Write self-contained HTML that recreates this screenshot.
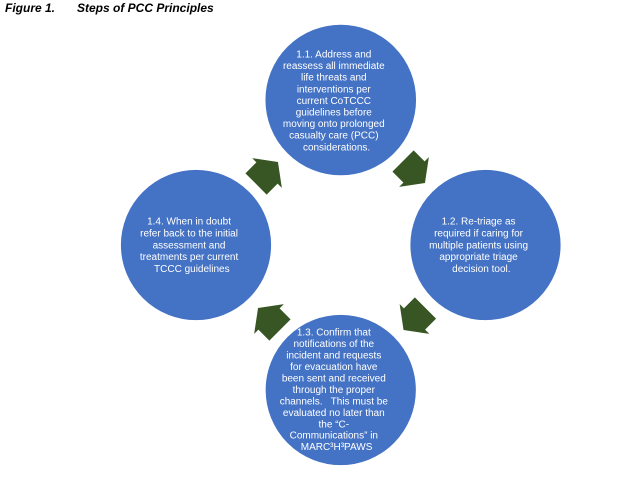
<!DOCTYPE html>
<html>
<head>
<meta charset="utf-8">
<style>
  html, body { margin: 0; padding: 0; background: #ffffff; }
  body { width: 640px; height: 490px; overflow: hidden; }
  svg { display: block; }
  .t { font-family: "Liberation Sans", Arial, sans-serif; font-size: 10px; fill: #ffffff; white-space: pre; }
  .title { font-family: "Liberation Sans", Arial, sans-serif; font-size: 12px; font-weight: bold; font-style: italic; fill: #000; }
</style>
</head>
<body>
<svg width="640" height="490" viewBox="0 0 640 490" xmlns="http://www.w3.org/2000/svg">
  <rect x="0" y="0" width="640" height="490" fill="#ffffff"/>

  <!-- Title -->
  <text class="title" x="5" y="12">Figure 1.</text>
  <text class="title" x="77" y="12">Steps of PCC Principles</text>

  <!-- Circles -->
  <circle cx="340.75" cy="100" r="75.7" fill="#4472C4" stroke="#ffffff" stroke-width="0.8"/>
  <circle cx="485.5" cy="245" r="75.5" fill="#4472C4" stroke="#ffffff" stroke-width="0.8"/>
  <circle cx="340.75" cy="390" r="75.5" fill="#4472C4" stroke="#ffffff" stroke-width="0.8"/>
  <circle cx="196" cy="245" r="75.5" fill="#4472C4" stroke="#ffffff" stroke-width="0.8"/>

  <!-- Arrows -->
  <g fill="#375623">
    <polygon transform="translate(414,172) rotate(45)" points="-15.5,-15 0,-15 0,-21 15.5,0 0,21 0,15 -15.5,15"/>
    <polygon transform="translate(414.5,319) rotate(135)" points="-15.5,-15 0,-15 0,-21 15.5,0 0,21 0,15 -15.5,15"/>
    <polygon transform="translate(269,319) rotate(225)" points="-15.5,-15 0,-15 0,-21 15.5,0 0,21 0,15 -15.5,15"/>
    <polygon transform="translate(267,173) rotate(315)" points="-15.5,-15 0,-15 0,-21 15.5,0 0,21 0,15 -15.5,15"/>
  </g>

  <!-- Top circle text -->
  <text class="t" text-anchor="middle">
    <tspan x="340.75" y="57.5">1.1. Address and</tspan>
    <tspan x="340.75" y="69.1">reassess all immediate</tspan>
    <tspan x="340.75" y="80.7">life threats and</tspan>
    <tspan x="340.75" y="92.3">interventions per</tspan>
    <tspan x="340.75" y="103.9">current CoTCCC</tspan>
    <tspan x="340.75" y="115.5">guidelines before</tspan>
    <tspan x="340.75" y="127.1">moving onto prolonged</tspan>
    <tspan x="340.75" y="138.7">casualty care (PCC)</tspan>
    <tspan x="340.75" y="150.3">considerations.</tspan>
  </text>

  <!-- Right circle text -->
  <text class="t" text-anchor="middle">
    <tspan x="485.5" y="224.5">1.2. Re-triage as</tspan>
    <tspan x="485.5" y="236.4">required if caring for</tspan>
    <tspan x="485.5" y="248.3">multiple patients using</tspan>
    <tspan x="485.5" y="260.2">appropriate triage</tspan>
    <tspan x="485.5" y="272.1">decision tool.</tspan>
  </text>

  <!-- Left circle text -->
  <text class="t" text-anchor="middle">
    <tspan x="196" y="224.5">1.4. When in doubt</tspan>
    <tspan x="196" y="236.4">refer back to the initial</tspan>
    <tspan x="196" y="248.3">assessment and</tspan>
    <tspan x="196" y="260.2">treatments per current</tspan>
    <tspan x="196" y="272.1">TCCC guidelines</tspan>
  </text>

  <!-- Bottom circle text -->
  <text class="t" text-anchor="middle">
    <tspan x="340.75" y="335.5">1.3. Confirm that</tspan>
    <tspan x="340.75" y="347">notifications of the</tspan>
    <tspan x="340.75" y="358.4">incident and requests</tspan>
    <tspan x="340.75" y="369.9">for evacuation have</tspan>
    <tspan x="340.75" y="381.4">been sent and received</tspan>
    <tspan x="340.75" y="392.9">through the proper</tspan>
    <tspan x="340.75" y="404.3">channels.   This must be</tspan>
    <tspan x="340.75" y="415.8">evaluated no later than</tspan>
    <tspan x="340.75" y="427.3">the “C-</tspan>
    <tspan x="340.75" y="438.7">Communications” in</tspan>
    <tspan x="340.75" y="450.2">MARC³H³PAWS</tspan>
  </text>
</svg>
</body>
</html>
